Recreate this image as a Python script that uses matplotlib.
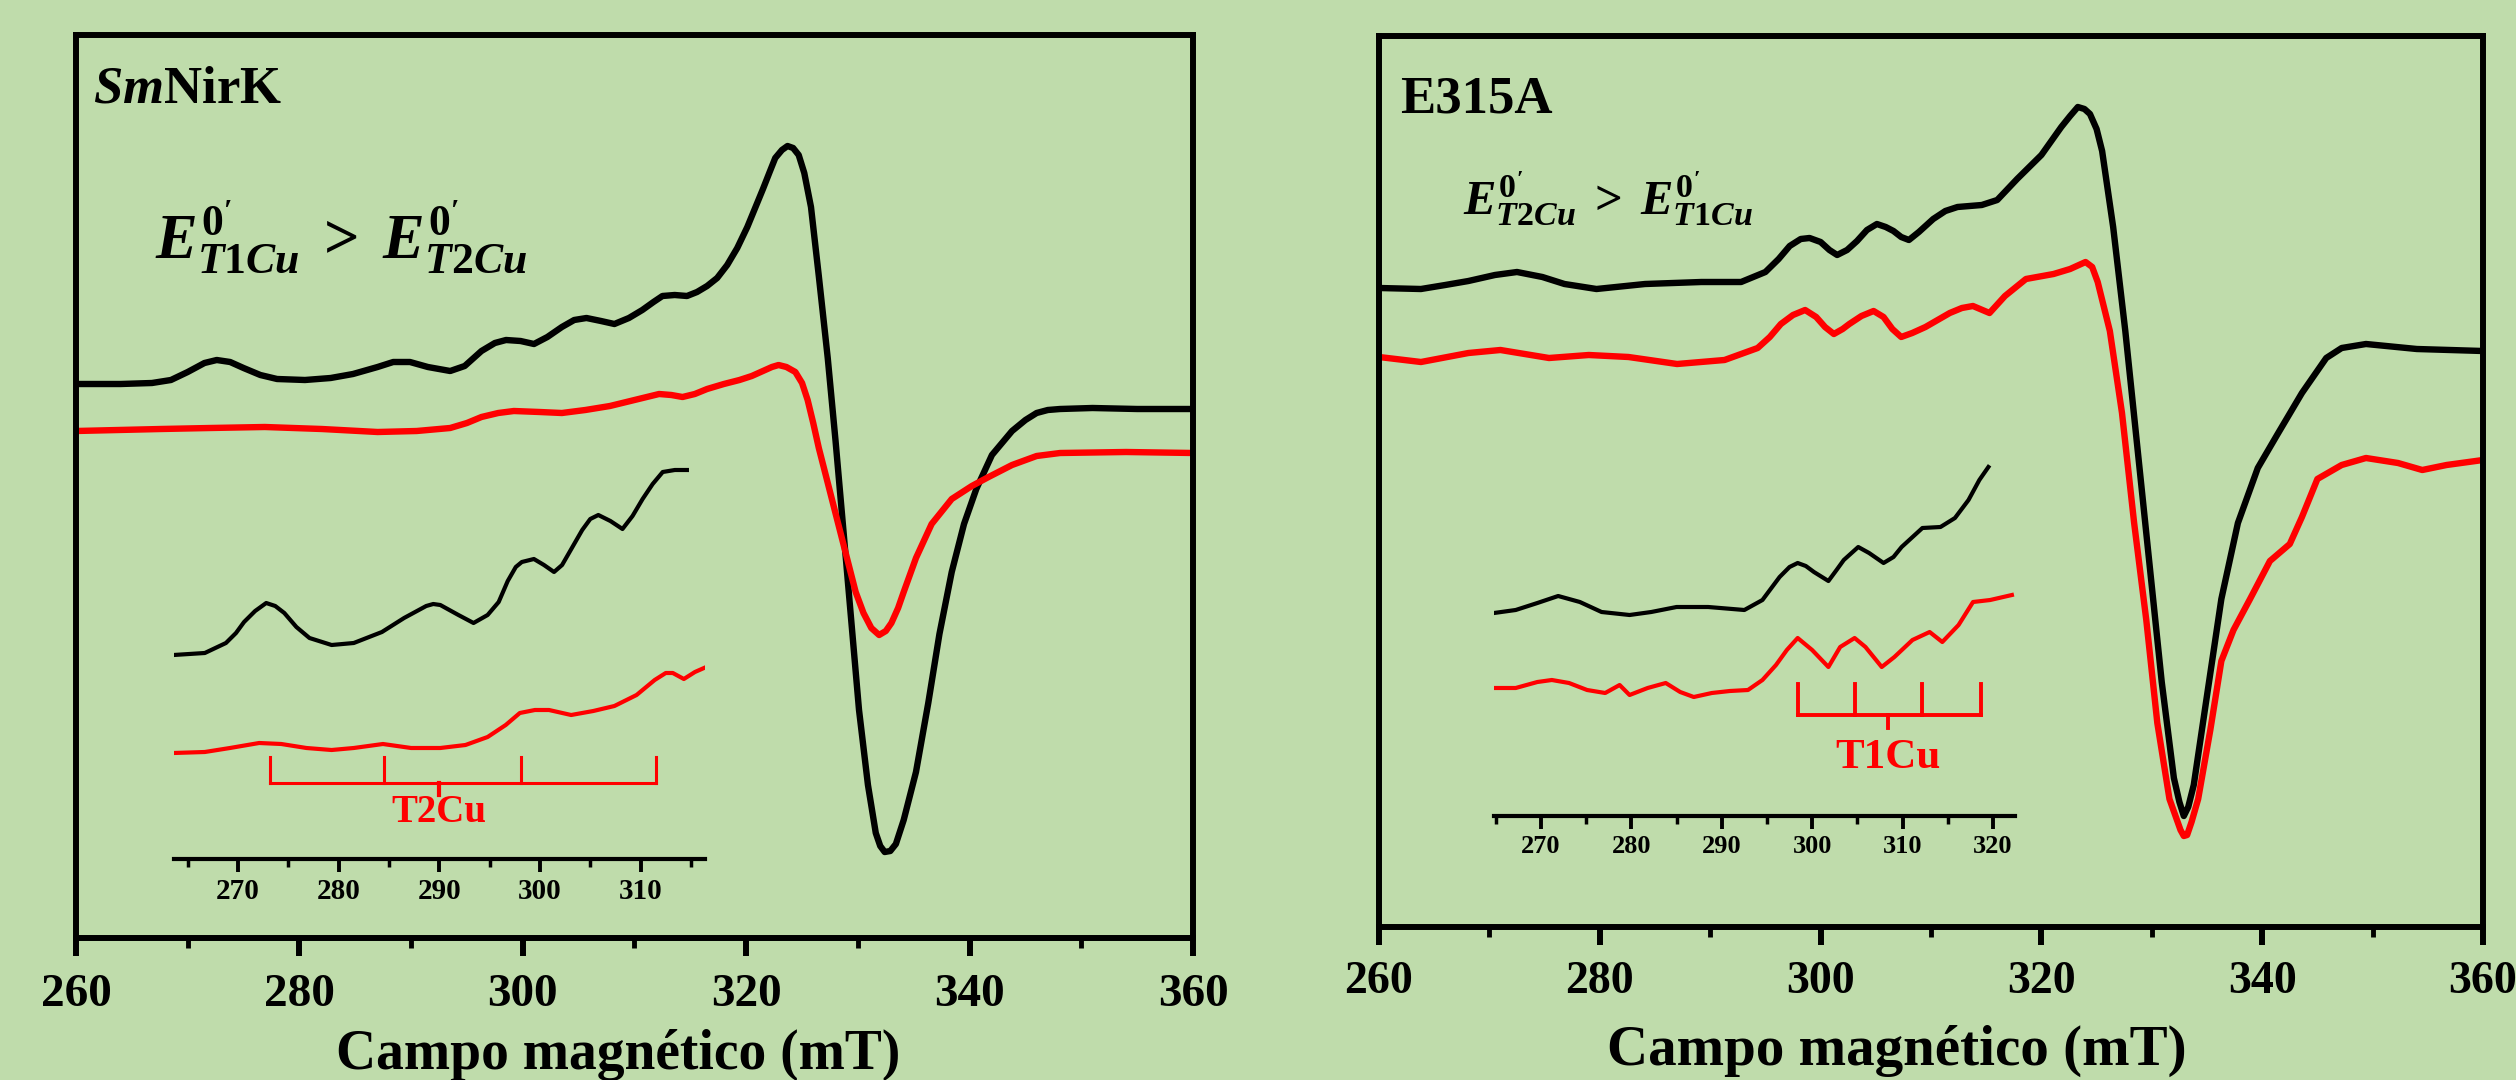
import matplotlib
matplotlib.use('Agg')
import matplotlib.pyplot as plt
from matplotlib.ticker import MultipleLocator

plt.rcParams['font.family'] = ['Liberation Serif', 'DejaVu Serif']
plt.rcParams['font.weight'] = 'bold'
plt.rcParams['mathtext.fontset'] = 'custom'
plt.rcParams['mathtext.rm'] = 'Liberation Serif:bold'
plt.rcParams['mathtext.it'] = 'Liberation Serif:italic:bold'
plt.rcParams['mathtext.bf'] = 'Liberation Serif:bold'

BG = '#BFDCAB'
RED = '#FF0000'

# ---------------- data (field in mT, intensity in arbitrary units) ----------------
# SmNirK main spectra
sm_black_x = [260, 264.0, 266.8, 268.5, 270.0, 271.5, 272.6, 273.8, 275.0, 276.5, 278.0, 280.5,
              282.8, 284.8, 287.0, 288.4, 289.9, 291.5, 293.5, 294.8, 296.3, 297.5, 298.5, 299.8,
              301.0, 302.2, 303.5, 304.6, 305.7, 307.0, 308.2, 309.5, 310.7, 311.7, 312.5, 313.6,
              314.7, 315.6, 316.5, 317.4, 318.3, 319.2, 320.1, 320.8, 321.5, 322.1, 322.6, 323.2,
              323.7, 324.2, 324.7, 325.2, 325.8, 326.5, 327.3, 328.0, 328.7, 329.4, 330.1, 330.9,
              331.6, 332.0, 332.4, 332.9, 333.4, 334.1, 335.2, 336.3, 337.3, 338.4, 339.5, 340.6,
              342.0, 343.8, 345.0, 346.0, 347.0, 348.1, 351.0, 355.0, 360]
sm_black_y = [554, 554, 555, 558, 566, 575, 578, 576, 570, 563, 559, 558,
              560, 564, 571, 576, 576, 571, 567, 572, 587, 595, 598, 597,
              594, 601, 611, 618, 620, 617, 614, 620, 628, 636, 642, 643,
              642, 646, 652, 660, 673, 690, 711, 730, 749, 766, 780, 788,
              792, 790, 783, 765, 731, 662, 580, 497, 408, 318, 228, 153,
              105, 92, 86, 87, 94, 118, 166, 235, 304, 366, 414, 449,
              483, 507, 518, 525, 528, 529, 530, 529, 529]
sm_red_x = [260, 267.6, 272.0, 276.9, 282.0, 287.0, 290.5, 293.5, 295.0, 296.3, 297.8, 299.2,
            301.5, 303.5, 305.6, 307.8, 310.0, 312.2, 313.3, 314.3, 315.4, 316.5, 318.0, 319.4,
            320.5, 321.5, 322.3, 322.9, 323.6, 324.4, 325.0, 325.5, 326.0, 326.5, 327.6, 328.7,
            329.8, 330.5, 331.2, 331.9, 332.5, 333.0, 333.6, 334.1, 335.2, 336.6, 338.4, 340.2,
            341.7, 343.8, 346.0, 348.1, 354.0, 360]
sm_red_y = [507, 509, 510, 511, 509, 506, 507, 510, 515, 521, 525, 527,
            526, 525, 528, 532, 538, 544, 543, 541, 544, 549, 554, 558,
            562, 567, 571, 573, 571, 566, 555, 538, 515, 490, 442, 394,
            346, 325, 310, 303, 307, 315, 330, 346, 380, 414, 439, 452,
            461, 473, 482, 485, 486, 485]

# SmNirK inset (expanded low-field region)
smi_black_x = [263.6, 266.7, 268.8, 269.8, 270.6, 271.7, 272.8, 273.7, 274.6, 275.8, 277.1, 279.3,
               281.5, 284.3, 286.5, 288.7, 289.4, 290.1, 291.9, 293.4, 294.8, 295.9, 296.8, 297.6,
               298.2, 299.4, 300.4, 301.4, 302.2, 303.0, 304.2, 305.0, 305.8, 307.0, 308.2, 309.2,
               310.2, 311.2, 312.2, 313.4, 314.6]
smi_black_y = [204, 206, 216, 226, 237, 248, 256, 253, 246, 232, 221, 214,
               216, 227, 241, 253, 255, 254, 244, 236, 244, 257, 278, 292,
               297, 300, 294, 287, 294, 308, 329, 340, 344, 338, 330, 343,
               360, 375, 387, 389, 389]
smi_red_x = [263.6, 266.7, 269.2, 272.1, 274.3, 276.8, 279.3, 281.5, 284.4, 287.2, 290.1, 292.6,
             294.8, 296.6, 298.0, 299.5, 300.9, 303.1, 305.3, 307.4, 309.6, 311.4, 312.5, 313.2,
             314.3, 315.4, 316.3]
smi_red_y = [106, 107, 111, 116, 115, 111, 109, 111, 115, 111, 111, 114,
             122, 134, 146, 149, 149, 144, 148, 153, 164, 179, 186, 186,
             180, 187, 191]
t2cu_lines = [273.2, 284.5, 298.1, 311.5]
t2cu_center = 290.0

# E315A main spectra
e3_black_x = [260, 263.8, 266.0, 268.1, 270.5, 272.5, 274.8, 276.8, 279.7, 284.1, 289.2, 292.8,
              295.0, 296.2, 297.2, 298.2, 299.0, 300.0, 300.8, 301.5, 302.4, 303.3, 304.2, 305.1,
              305.9, 306.6, 307.3, 308.0, 308.9, 310.2, 311.3, 312.4, 313.5, 314.6, 316.0, 317.8,
              320.0, 321.8, 322.6, 323.3, 323.9, 324.4, 325.0, 325.5, 326.5, 327.6, 328.7, 329.8,
              330.9, 332.0, 332.5, 332.9, 333.3, 333.8, 334.9, 336.3, 337.8, 339.6, 341.4, 343.6,
              345.8, 347.2, 349.4, 354.0, 360]
e3_black_y = [639, 638, 642, 646, 652, 655, 650, 643, 638, 643, 645, 645,
              655, 668, 681, 688, 689, 685, 677, 672, 677, 686, 697, 703,
              700, 696, 690, 687, 695, 708, 716, 720, 721, 722, 727, 748,
              772, 800, 811, 820, 818, 813, 798, 776, 700, 596, 479, 362,
              245, 149, 125, 111, 120, 142, 224, 328, 404, 459, 493, 534,
              569, 579, 583, 578, 576]
e3_red_x = [260, 263.8, 268.1, 271.0, 275.4, 279.0, 282.6, 287.0, 291.3, 294.3, 295.4, 296.4,
            297.5, 298.6, 299.6, 300.4, 301.2, 302.0, 302.6, 303.7, 304.8, 305.7, 306.5, 307.3,
            308.3, 309.5, 310.6, 311.7, 312.8, 313.8, 315.3, 316.7, 318.6, 321.1, 322.6, 324.0,
            324.6, 325.1, 326.2, 327.3, 328.4, 329.5, 330.5, 331.6, 332.6, 332.9, 333.2, 333.6,
            334.2, 335.3, 336.3, 337.4, 338.9, 340.7, 342.5, 343.6, 345.0, 347.2, 349.4, 352.3,
            354.5, 356.7, 360]
e3_red_y = [570, 565, 574, 577, 569, 572, 570, 563, 567, 579, 590, 603,
            612, 617, 610, 600, 593, 598, 603, 611, 616, 610, 598, 590,
            594, 600, 607, 614, 619, 621, 614, 631, 648, 653, 658, 665,
            660, 645, 596, 514, 404, 307, 204, 128, 97, 91, 92, 105,
            128, 197, 266, 297, 328, 366, 383, 410, 448, 462, 469, 464,
            457, 462, 467]

# E315A inset
e3i_black_x = [264.8, 267.2, 269.6, 271.9, 274.3, 276.7, 279.8, 282.2, 285.0, 288.5, 292.5, 294.5,
               296.4, 297.5, 298.4, 299.3, 300.2, 301.8, 302.7, 303.5, 305.1, 306.3, 307.9, 309.0,
               309.9, 312.2, 314.2, 315.8, 317.3, 318.5, 319.5]
e3i_black_y = [203, 206, 213, 220, 214, 204, 201, 204, 209, 209, 206, 216,
               239, 249, 253, 250, 244, 235, 246, 256, 269, 263, 253, 259,
               269, 288, 289, 298, 316, 336, 349]
e3i_red_x = [264.8, 267.2, 269.6, 271.2, 273.1, 275.1, 277.1, 278.7, 279.8, 281.8, 283.8, 285.4,
             286.9, 288.9, 290.9, 292.9, 294.5, 296.0, 297.2, 298.4, 300.0, 301.8, 303.1, 304.7,
             305.9, 307.7, 309.1, 311.1, 313.0, 314.4, 316.2, 317.8, 319.7, 322.1]
e3i_red_y = [128, 128, 134, 136, 133, 126, 123, 131, 121, 128, 133, 124,
             119, 123, 125, 126, 136, 151, 166, 178, 166, 149, 169, 178,
             169, 149, 159, 176, 184, 174, 191, 214, 216, 221]
t1cu_lines = [298.4, 304.7, 312.1, 318.7]
t1cu_center = 308.4

# ---------------- figure ----------------
W, H = 2516, 1080
fig = plt.figure(figsize=(W / 100, H / 100), dpi=100, facecolor=BG)


def px_axes(x0, y0, x1, y1):
    return fig.add_axes([x0 / W, 1 - y1 / H, (x1 - x0) / W, (y1 - y0) / H])


def style_main(ax, ylim, tick_fs, pad):
    ax.set_facecolor(BG)
    ax.set_xlim(260, 360)
    ax.set_ylim(*ylim)
    ax.set_yticks([])
    ax.xaxis.set_major_locator(MultipleLocator(20))
    ax.xaxis.set_minor_locator(MultipleLocator(10))
    for s in ax.spines.values():
        s.set_linewidth(4.3)
    ax.tick_params(axis='x', which='major', direction='out', length=13, width=4.3,
                   labelsize=tick_fs, pad=pad)
    ax.tick_params(axis='x', which='minor', direction='out', length=7, width=3.5)
    for lab in ax.get_xticklabels():
        lab.set_fontweight('bold')


def style_inset(ax, xlim, ylim, fs):
    ax.patch.set_alpha(0)
    ax.set_xlim(*xlim)
    ax.set_ylim(*ylim)
    ax.set_yticks([])
    for k in ('left', 'right', 'top'):
        ax.spines[k].set_visible(False)
    ax.spines['bottom'].set_linewidth(3.0)
    ax.xaxis.set_major_locator(MultipleLocator(10))
    ax.xaxis.set_minor_locator(MultipleLocator(5))
    ax.tick_params(axis='x', which='major', direction='out', length=9, width=2.8,
                   labelsize=fs, pad=5)
    ax.tick_params(axis='x', which='minor', direction='out', length=6, width=2.5)


# Left panel
axL = px_axes(76, 35, 1193, 938)
style_main(axL, (0, 903), 34, 13)
axL.plot(sm_black_x, sm_black_y, color='black', lw=4.6, solid_joinstyle='round')
axL.plot(sm_red_x, sm_red_y, color=RED, lw=4.6, solid_joinstyle='round')
axL.text(0.0152, 0.9247, r'$Sm$NirK', transform=axL.transAxes, fontsize=38,
         fontweight='bold', va='baseline', ha='left')
axL.text(0.0707, 0.753, r"$E^{0'}_{T1Cu}\;>\;E^{0'}_{T2Cu}$", transform=axL.transAxes,
         fontsize=45, va='baseline', ha='left')

insL = axL.inset_axes([(173.6 - 76) / 1117, (938 - 859) / 903, (705 - 173.6) / 1117, 399 / 903])
style_inset(insL, (263.6, 316.4), (0, 399), 21)
insL.plot(smi_black_x, smi_black_y, color='black', lw=3.0, solid_joinstyle='round')
insL.plot(smi_red_x, smi_red_y, color=RED, lw=3.0, solid_joinstyle='round')
insL.plot([t2cu_lines[0], t2cu_lines[-1]], [76, 76], color=RED, lw=2.2)
for xv in t2cu_lines:
    insL.plot([xv, xv], [76, 102], color=RED, lw=2.2)
insL.plot([t2cu_center, t2cu_center], [64, 76], color=RED, lw=3.0)
insL.text(t2cu_center, 46, 'T2Cu', color=RED, fontsize=28, fontweight='bold',
          ha='center', va='center')

# Right panel
axR = px_axes(1379, 36, 2483, 927)
style_main(axR, (0, 891), 33, 11.5)
axR.plot(e3_black_x, e3_black_y, color='black', lw=4.6, solid_joinstyle='round')
axR.plot(e3_red_x, e3_red_y, color=RED, lw=4.6, solid_joinstyle='round')
axR.text(0.019, 0.9147, 'E315A', transform=axR.transAxes, fontsize=38,
         fontweight='bold', va='baseline', ha='left')
axR.text(0.0761, 0.799, r"$E^{0'}_{T2Cu}\;>\;E^{0'}_{T1Cu}$", transform=axR.transAxes,
         fontsize=35, va='baseline', ha='left')

insR = axR.inset_axes([(1494 - 1379) / 1104, (927 - 816) / 891, 520.6 / 1104, 396 / 891])
style_inset(insR, (264.8, 322.4), (0, 396), 19)
insR.plot(e3i_black_x, e3i_black_y, color='black', lw=3.0, solid_joinstyle='round')
insR.plot(e3i_red_x, e3i_red_y, color=RED, lw=3.0, solid_joinstyle='round')
insR.plot([t1cu_lines[0], t1cu_lines[-1]], [101, 101], color=RED, lw=2.8)
for xv in t1cu_lines:
    insR.plot([xv, xv], [101, 132], color=RED, lw=2.8)
insR.plot([t1cu_center, t1cu_center], [88, 101], color=RED, lw=2.8)
insR.text(t1cu_center, 58, 'T1Cu', color=RED, fontsize=31, fontweight='bold',
          ha='center', va='center')

# axis titles
fig.text(618 / W, 1 - 1055 / H, 'Campo magnético (mT)', fontsize=40, fontweight='bold',
         ha='center', va='center')
fig.text(1897 / W, 1 - 1051 / H, 'Campo magnético (mT)', fontsize=41, fontweight='bold',
         ha='center', va='center')

fig.savefig('out.png', dpi=100, facecolor=BG)
